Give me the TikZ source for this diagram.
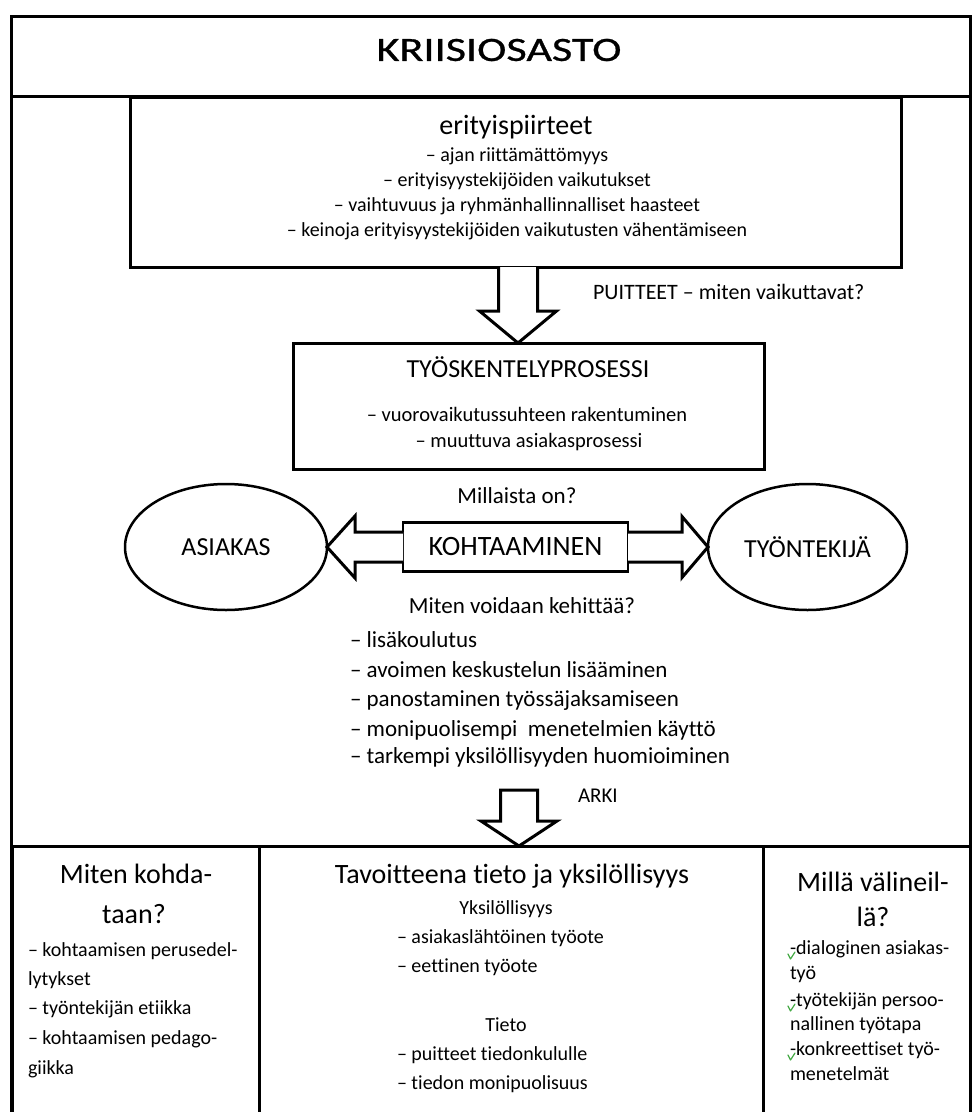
\documentclass[tikz,border=0pt]{standalone}
\usepackage{fontspec}
\setmainfont{Carlito}[Ligatures=NoCommon]
\newfontfamily\titlefont[FakeStretch=1.3,FakeBold=0.8,Ligatures=NoCommon]{Carlito}
\usetikzlibrary{calc,shapes.geometric}
\newcommand{\pxsize}[1]{\fontsize{#1pt}{#1pt}\selectfont}
\definecolor{spellgreen}{RGB}{70,170,70}

\begin{document}
\begin{tikzpicture}[x=1pt,y=-1pt,
  frameline/.style={line width=3pt},
  panel/.style={draw,line width=3pt,inner sep=0pt,outer sep=0pt},
  oval/.style={draw,ellipse,line width=2.5pt,inner sep=0pt,outer sep=0pt,
    minimum height=126pt,font=\pxsize{26}},
  blockarrow/.style={draw,line width=3pt,fill=white,line join=miter},
  sz/.style={inner sep=0pt,outer sep=0pt,font=\pxsize{#1},
    text height={0.72*#1},text depth={0.24*#1}},
  tick/.style={draw=spellgreen,line width=1.2pt,line cap=round,line join=round}
]
\useasboundingbox (0,0) rectangle (973,1112);

% outer frame and title band
\draw[frameline] (11,1112) -- (11,16) -- (970,16) -- (970,1112);
\node[panel,minimum width=959pt,minimum height=80pt] (band) at (490.5,56) {};
\node[inner sep=0pt,font=\titlefont\pxsize{34}] (title) at (499,50) {KRIISIOSASTO};

% special features box
\node[panel,minimum width=771pt,minimum height=170pt] (erity) at (515.5,182) {};
\node[sz=28] (erityhead) at (516,128) {erityispiirteet};
\foreach \t/\y [count=\i] in {%
  {– ajan riittämättömyys}/157,
  {– erityisyystekijöiden vaikutukset}/182,
  {– vaihtuvuus ja ryhmänhallinnalliset haasteet}/207,
  {– keinoja erityisyystekijöiden vaikutusten vähentämiseen}/232}
  \node[sz=20] (erity\i) at (517,\y) {\t};

% working process box
\node[panel,minimum width=471pt,minimum height=126pt] (tyo) at (528.5,406) {};
\node[sz=26] (tyohead) at (528,371) {TYÖSKENTELYPROSESSI};
\node[sz=20.5] (tyo1) at (527,417) {– vuorovaikutussuhteen rakentuminen};
\node[sz=20.5] (tyo2) at (529,443) {– muuttuva asiakasprosessi};

% arrow from the special features to the process
\coordinate (a1s) at ($(erity.south)+(2.5,0)$);
\coordinate (a1p) at ($(tyo.north)+(-10.5,0)$);
\draw[blockarrow] ($(a1s)+(-19.5,0)$) -- ($(a1p)+(-19.5,-32)$) -- ($(a1p)+(-38.5,-32)$)
  -- (a1p) -- ($(a1p)+(38.5,-32)$) -- ($(a1p)+(19.5,-32)$) -- ($(a1s)+(19.5,0)$);
\node[sz=22,anchor=west] (puitteet) at (593,294) {PUITTEET – miten vaikuttavat?};

% encounter between client and worker
\node[sz=23] (millaista) at (517,498) {Millaista on?};
\node[oval,minimum width=202pt] (asiakas) at (226,547) {ASIAKAS};
\node[oval,minimum width=199pt] (tyontekija) at (807.5,547) {TYÖNTEKIJÄ};
\node[panel,line width=2.5pt,minimum width=225pt,minimum height=49pt,font=\pxsize{28}]
  (kohta) at (515.5,547) {KOHTAAMINEN};
\draw[blockarrow] ($(kohta.west)+(0,-15)$) -- ($(asiakas.east)+(28,-15)$)
  -- ($(asiakas.east)+(28,-31)$) -- (asiakas.east) -- ($(asiakas.east)+(28,31)$)
  -- ($(asiakas.east)+(28,15)$) -- ($(kohta.west)+(0,15)$);
\draw[blockarrow] ($(kohta.east)+(0,-15)$) -- ($(tyontekija.west)+(-26,-15)$)
  -- ($(tyontekija.west)+(-26,-30.5)$) -- (tyontekija.west) -- ($(tyontekija.west)+(-26,30.5)$)
  -- ($(tyontekija.west)+(-26,15)$) -- ($(kohta.east)+(0,15)$);

% development list
\node[sz=23] (kehittaa) at (522,608) {Miten voidaan kehittää?};
\foreach \t/\y [count=\i] in {%
  {– lisäkoulutus}/642,
  {– avoimen keskustelun lisääminen}/672,
  {– panostaminen työssäjaksamiseen}/701,
  {– monipuolisempi\ \ menetelmien käyttö}/731,
  {– tarkempi yksilöllisyyden huomioiminen}/758}
  \node[sz=23,anchor=west] (kehitys\i) at (350,\y) {\t};

% bottom row of three columns
\node[panel,minimum width=247pt,minimum height=272pt] (colL) at (135.5,982) {};
\node[panel,minimum width=504pt,minimum height=272pt] (colM) at (511,982) {};
\node[panel,minimum width=207pt,minimum height=272pt] (colR) at (866.5,982) {};

% everyday arrow into the bottom row
\coordinate (arkitop) at (519,790);
\coordinate (a2p) at ($(colM.north)+(8,0)$);
\draw[blockarrow] ($(arkitop)+(-18.5,0)$) -- ($(a2p)+(-18.5,-25)$) -- ($(a2p)+(-38,-25)$)
  -- (a2p) -- ($(a2p)+(38,-25)$) -- ($(a2p)+(18.5,-25)$) -- ($(arkitop)+(18.5,0)$) -- cycle;
\node[sz=21,anchor=west] (arki) at (578,797) {ARKI};

% left column
\node[sz=28] (lhead1) at (136,877) {Miten kohda-};
\node[sz=28] (lhead2) at (134,917) {taan?};
\foreach \t/\y [count=\i] in {%
  {– kohtaamisen perusedel-}/952,
  {lytykset}/981,
  {– työntekijän etiikka}/1010,
  {– kohtaamisen pedago-}/1040,
  {giikka}/1070}
  \node[sz=20,anchor=west] (vasen\i) at (28,\y) {\t};

% middle column
\node[sz=28] (mhead) at (512,877) {Tavoitteena tieto ja yksilöllisyys};
\node[sz=20] (yksil) at (506,910) {Yksilöllisyys};
\node[sz=20,anchor=west] (keski1) at (397,939) {– asiakaslähtöinen työote};
\node[sz=20,anchor=west] (keski2) at (397,968) {– eettinen työote};
\node[sz=20] (tieto) at (506,1027) {Tieto};
\node[sz=20,anchor=west] (keski3) at (397,1056) {– puitteet tiedonkululle};
\node[sz=20,anchor=west] (keski4) at (397,1085) {– tiedon monipuolisuus};

% right column
\node[sz=28] (rhead1) at (873,885) {Millä välineil-};
\node[sz=28] (rhead2) at (873,920) {lä?};
\foreach \t/\y [count=\i] in {%
  {-dialoginen asiakas-}/950,
  {työ}/975,
  {-työtekijän persoo-}/1002,
  {nallinen työtapa}/1026,
  {-konkreettiset työ-}/1051,
  {menetelmät}/1076}
  \node[sz=20,anchor=west] (oikea\i) at (790,\y) {\t};
\foreach \y in {950,1002,1051}
  \draw[tick] (788,\y+4) -- (790.5,\y+9) -- (795,\y+2);
\end{tikzpicture}
\end{document}
